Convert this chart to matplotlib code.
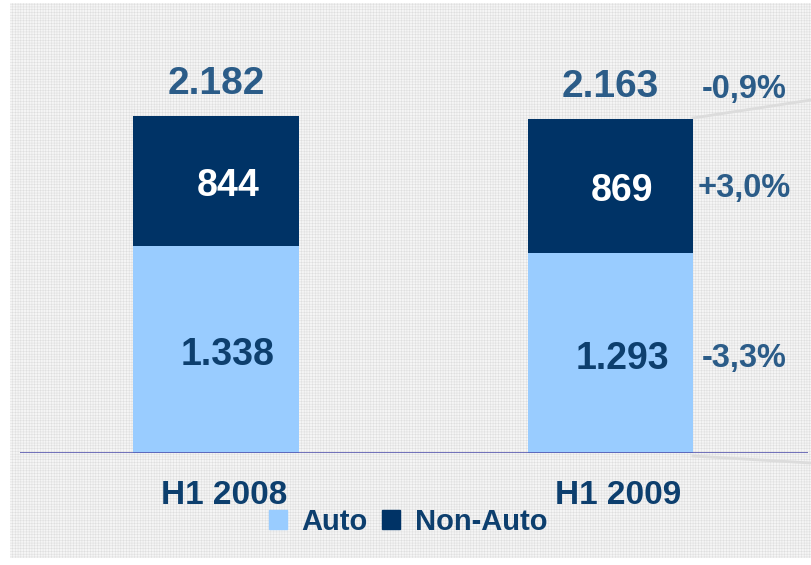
import matplotlib.pyplot as plt
from matplotlib.patches import Patch, Rectangle

periods = ['H1 2008', 'H1 2009']
auto = [1338, 1293]
non_auto = [844, 869]
totals = [2182, 2163]
auto_lbl = ['1.338', '1.293']
non_auto_lbl = ['844', '869']
total_lbl = ['2.182', '2.163']
changes = ['-0,9%', '+3,0%', '-3,3%']   # total, non-auto, auto

light = '#99ccff'
navy = '#003366'
txt = '#0d3f6e'
txt2 = '#2b5c88'

plt.rcParams['font.family'] = ['Liberation Sans', 'DejaVu Sans']
plt.rcParams['font.weight'] = 'bold'
plt.rcParams['hatch.linewidth'] = 0.3

W, H = 811, 565
fig = plt.figure(figsize=(W / 100, H / 100), dpi=100)
fig.patch.set_facecolor('white')

# textured background
bg = Rectangle((10 / W, 7 / H), 801 / W, 555 / H, transform=fig.transFigure,
               facecolor='#f5f5f5', edgecolor='#dadada', hatch='++++++', lw=0, zorder=-10)
fig.patches.append(bg)

# faint decorative lines on the right
fig.add_artist(plt.Line2D([693 / W, 1], [1 - 118 / H, 1 - 100 / H], transform=fig.transFigure,
                          color='#dcdcdc', lw=2, zorder=-5))
fig.add_artist(plt.Line2D([693 / W, 1], [1 - 456 / H, 1 - 463 / H], transform=fig.transFigure,
                          color='#dcdcdc', lw=2, zorder=-5))

ax = fig.add_axes([20 / W, 112 / H, 788 / W, 453 / H])
ax.set_facecolor('none')
ax.set_xlim(-0.497, 1.5006)
ax.set_ylim(0, 453 / 0.1545)
ax.axis('off')

x = [0, 1]
ax.bar(x, auto, width=0.42, color=light, zorder=2)
ax.bar(x, non_auto, bottom=auto, width=0.42, color=navy, zorder=2)
ax.axhline(0, color='#4a4aa8', lw=1.8, zorder=3)

for i in x:
    ax.text(i + 0.03, auto[i] / 2 - 35, auto_lbl[i], ha='center', va='center',
            fontsize=27, color=txt, fontweight='bold')
    ax.text(i + 0.03, auto[i] + non_auto[i] / 2 - 30, non_auto_lbl[i], ha='center', va='center',
            fontsize=27, color='white', fontweight='bold')
    ax.text(i, totals[i] + 90, total_lbl[i], ha='center', va='bottom',
            fontsize=28, color=txt2, fontweight='bold')
    ax.text(i + 0.02, -175, periods[i], ha='center', va='top',
            fontsize=24, color=txt, fontweight='bold')

# percentage changes
ax.text(1.34, totals[1] + 90, changes[0], ha='center', va='bottom', fontsize=23.5, color=txt2)
ax.text(1.34, auto[1] + non_auto[1] / 2 - 15, changes[1], ha='center', va='center', fontsize=23.5, color=txt2)
ax.text(1.34, auto[1] / 2 - 35, changes[2], ha='center', va='center', fontsize=23.5, color=txt2)

handles = [Patch(color=light, label='Auto'), Patch(color=navy, label='Non-Auto')]
leg = fig.legend(handles=handles, loc='center', bbox_to_anchor=(408 / W, 1 - 522 / H), ncol=2,
                 frameon=False, fontsize=21, handlelength=0.62, handleheight=0.62,
                 handletextpad=0.5, columnspacing=0.5)
for t in leg.get_texts():
    t.set_color(txt)

fig.savefig('out.png', dpi=100, facecolor='white')
